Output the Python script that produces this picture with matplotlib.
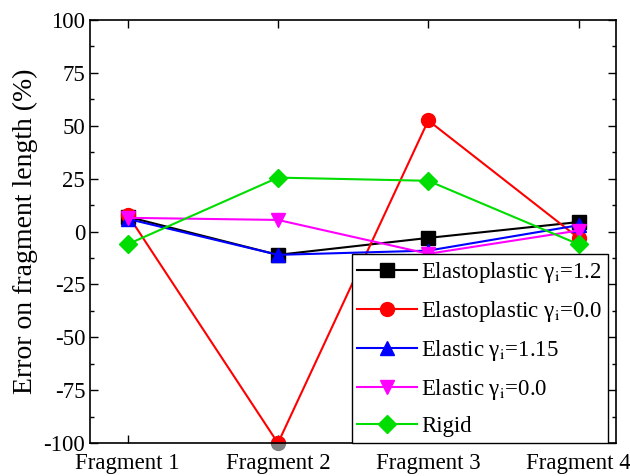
import matplotlib.pyplot as plt
from matplotlib.ticker import MultipleLocator

plt.rcParams['font.family'] = ['Liberation Serif', 'DejaVu Serif']
plt.rcParams['mathtext.fontset'] = 'stix'
plt.rcParams['axes.unicode_minus'] = False

fragments = ["Fragment 1", "Fragment 2", "Fragment 3", "Fragment 4"]
elastoplastic_12 = [7, -11, -3, 4.5]
elastoplastic_00 = [8, -100, 52.5, -3]
elastic_115 = [6, -11, -9, 3]
elastic_00 = [6.5, 5.5, -10.5, 0.5]
rigid = [-6, 25.5, 24, -6]

series = [
    (elastoplastic_12, 'black', 's', 'Elastoplastic γ$_{\\rm i}$=1.2'),
    (elastoplastic_00, 'red', 'o', 'Elastoplastic γ$_{\\rm i}$=0.0'),
    (elastic_115, 'blue', '^', 'Elastic γ$_{\\rm i}$=1.15'),
    (elastic_00, 'magenta', 'v', 'Elastic γ$_{\\rm i}$=0.0'),
    (rigid, '#00dd00', 'D', 'Rigid'),
]

x = [1, 2, 3, 4]

fig, ax = plt.subplots(figsize=(6.3, 4.76), dpi=100)
fig.subplots_adjust(left=0.143, right=0.978, top=0.958, bottom=0.069)

for vals, col, mk, lab in series:
    ms = 9 if mk == 'D' else 10
    ax.plot(x, vals, color=col, marker=mk, markersize=ms, linewidth=1.5, label=lab)

# the clipped red point in the original shows grey below the axis
ax.plot(x[1], elastoplastic_00[1], 'o', color='grey', markersize=10, clip_on=False, zorder=1)

ax.set_xlim(0.75, 4.25)
ax.set_ylim(-100, 100)
ax.set_xticks(x)
ax.set_xticklabels(fragments)
ax.yaxis.set_major_locator(MultipleLocator(25))
ax.yaxis.set_minor_locator(MultipleLocator(12.5))
ax.tick_params(axis='both', which='major', direction='in', length=6, width=1,
               labelsize=16.5, top=True, right=True)
ax.tick_params(axis='y', which='minor', direction='in', length=3, width=1, right=True)
ax.tick_params(axis='x', pad=7)
for sp in ax.spines.values():
    sp.set_linewidth(1.2)

ax.set_ylabel("Error on fragment length (%)", fontsize=20)

leg = ax.legend(loc='lower right', bbox_to_anchor=(0.985, 0.0), fontsize=16.5,
                handlelength=2.6, handletextpad=0.2, borderpad=0.25, labelspacing=0.62,
                borderaxespad=0, fancybox=False, framealpha=1, edgecolor='black')
leg.get_frame().set_linewidth(1)

plt.savefig("out.png", dpi=100)
